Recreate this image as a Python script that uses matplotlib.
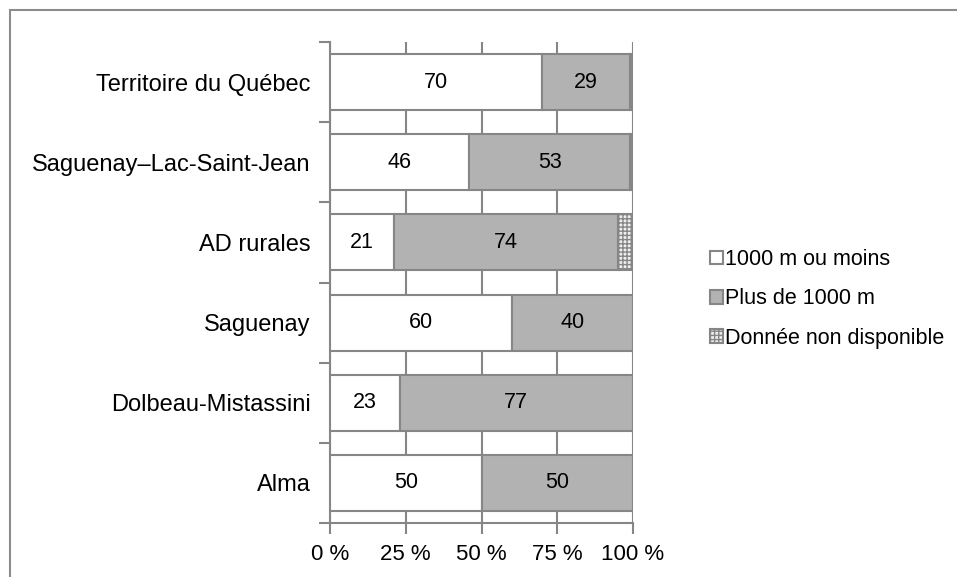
import matplotlib.pyplot as plt
import numpy as np
from matplotlib.patches import Rectangle

plt.rcParams['font.family'] = ['Liberation Sans', 'DejaVu Sans']
plt.rcParams['hatch.color'] = '#b0b0b0'
plt.rcParams['hatch.linewidth'] = 1.0

# categories from bottom to top
categories = ['Alma', 'Dolbeau-Mistassini', 'Saguenay', 'AD rurales',
              'Saguenay\u2013Lac-Saint-Jean', 'Territoire du Québec']
moins_1000 = [50, 23, 60, 21, 46, 70]
plus_1000 = [50, 77, 40, 74, 53, 29]
non_dispo = [0, 0, 0, 5, 1, 1]
series_names = ['1000 m ou moins', 'Plus de 1000 m', 'Donnée non disponible']
x_ticks = [0, 25, 50, 75, 100]
x_labels = ['0 %', '25 %', '50 %', '75 %', '100 %']

edge = '#868686'
fig = plt.figure(figsize=(9.57, 5.77), dpi=100)
ax = fig.add_axes([330 / 957, 54 / 577, 303 / 957, 481 / 577])

y = np.arange(len(categories))
left = np.zeros(len(categories))
b1 = ax.barh(y, moins_1000, left=left, height=0.7, color='white',
             edgecolor=edge, linewidth=1.5, label=series_names[0], zorder=3)
left += moins_1000
b2 = ax.barh(y, plus_1000, left=left, height=0.7, color='#b2b2b2',
             edgecolor=edge, linewidth=1.5, label=series_names[1], zorder=3)
left += plus_1000
b3 = ax.barh(y, non_dispo, left=left, height=0.7, color='#eeeeee',
             edgecolor=edge, linewidth=1.5, hatch='++++',
             label=series_names[2], zorder=3)

for bars, vals in [(b1, moins_1000), (b2, plus_1000)]:
    for rect, v in zip(bars, vals):
        ax.text(rect.get_x() + rect.get_width() / 2,
                rect.get_y() + rect.get_height() / 2, str(v),
                ha='center', va='center', fontsize=15.5, color='black', zorder=4)

ax.set_xlim(0, 100)
ax.set_ylim(-0.5, len(categories) - 0.5)
ax.set_xticks(x_ticks)
ax.set_xticklabels(x_labels, fontsize=16)
ax.set_yticks(np.arange(len(categories) + 1) - 0.5)
ax.set_yticklabels([])
ax.set_yticks(y, minor=True)
ax.set_yticklabels(categories, minor=True, fontsize=17)
ax.tick_params(axis='y', which='major', length=8, width=1.5, color=edge)
ax.tick_params(axis='y', which='minor', length=0, pad=14)
ax.tick_params(axis='x', length=8, width=1.5, color=edge, pad=7)

ax.grid(axis='x', color=edge, linewidth=1.5, zorder=0)
ax.set_axisbelow(True)
for s in ['top', 'right']:
    ax.spines[s].set_visible(False)
for s in ['left', 'bottom']:
    ax.spines[s].set_color(edge)
    ax.spines[s].set_linewidth(1.5)

ax.legend(loc='center left', bbox_to_anchor=(701 / 957, 278 / 577),
          bbox_transform=fig.transFigure, frameon=False, fontsize=15.5,
          handlelength=0.6, handleheight=0.6, handletextpad=0.1,
          labelspacing=0.85, borderaxespad=0)

# outer chart border
fig.patches.append(Rectangle((10 / 957, -0.1), 1.2, (577 - 10) / 577 + 0.1,
                             transform=fig.transFigure, fill=False,
                             edgecolor='#8c8c8c', linewidth=1.5))

fig.savefig('out.png', dpi=100)
